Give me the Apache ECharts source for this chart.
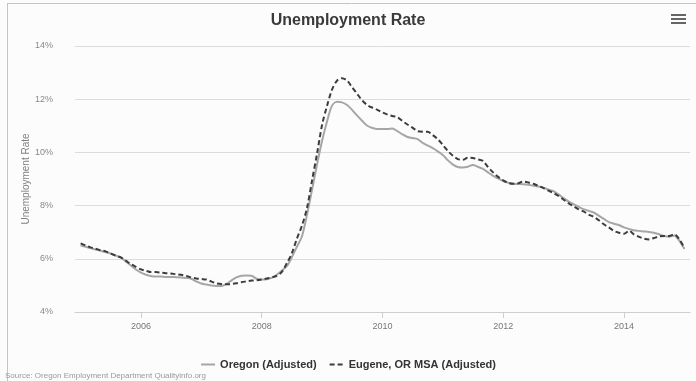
<!DOCTYPE html>
<html>
<head>
<meta charset="utf-8">
<title>Unemployment Rate</title>
<script src="https://cdn.jsdelivr.net/npm/echarts@6/dist/echarts.min.js"></script>
<style>
  html, body { margin: 0; padding: 0; background: #fcfcfc; }
  #chart { width: 696px; height: 381px; }
</style>
</head>
<body>
<div id="chart"></div>
<script>
// Monthly seasonally adjusted unemployment rate (%), Jan 2005 – Jan 2015
const startYear = 2005;
const monthCount = 121;

const oregon = [
  6.50, 6.45, 6.40, 6.35, 6.30, 6.25, 6.20, 6.12, 6.05, 5.90, 5.75, 5.60,
  5.48, 5.40, 5.35, 5.33, 5.33, 5.32, 5.32, 5.31, 5.30, 5.28, 5.25, 5.15,
  5.07, 5.03, 5.00, 4.98, 4.98, 5.05, 5.18, 5.30, 5.36, 5.37, 5.36, 5.25,
  5.22, 5.23, 5.28, 5.40, 5.55, 5.72, 6.05, 6.45, 6.85, 7.65, 8.60, 9.55,
  10.45, 11.20, 11.75, 11.90, 11.88, 11.78, 11.60, 11.38, 11.18, 11.00, 10.92, 10.88,
  10.88, 10.88, 10.90, 10.80, 10.68, 10.58, 10.54, 10.50, 10.36, 10.26, 10.16, 10.04,
  9.90, 9.70, 9.55, 9.45, 9.43, 9.46, 9.53, 9.46, 9.38, 9.25, 9.12, 9.02,
  8.92, 8.86, 8.82, 8.81, 8.80, 8.78, 8.75, 8.72, 8.67, 8.60, 8.54, 8.42,
  8.28, 8.15, 8.06, 7.95, 7.87, 7.80, 7.74, 7.62, 7.50, 7.38, 7.32, 7.27,
  7.18, 7.12, 7.07, 7.05, 7.03, 7.01, 6.98, 6.92, 6.86, 6.83, 6.88, 6.68,
  6.37
];

const eugene = [
  6.58, 6.50, 6.43, 6.38, 6.32, 6.28, 6.20, 6.12, 6.05, 5.93, 5.80, 5.70,
  5.60, 5.55, 5.50, 5.50, 5.48, 5.46, 5.45, 5.42, 5.40, 5.36, 5.30, 5.26,
  5.24, 5.22, 5.15, 5.08, 5.05, 5.04, 5.05, 5.08, 5.12, 5.15, 5.18, 5.19,
  5.22, 5.26, 5.30, 5.36, 5.50, 5.83, 6.20, 6.75, 7.25, 7.90, 8.95, 9.95,
  11.05, 11.78, 12.35, 12.70, 12.79, 12.70, 12.45, 12.20, 11.95, 11.78, 11.68, 11.60,
  11.50, 11.42, 11.37, 11.32, 11.18, 11.05, 10.93, 10.80, 10.78, 10.78, 10.65, 10.50,
  10.28, 10.05, 9.88, 9.75, 9.72, 9.80, 9.79, 9.74, 9.68, 9.45, 9.25, 9.08,
  8.95, 8.85, 8.82, 8.84, 8.90, 8.87, 8.82, 8.74, 8.66, 8.56, 8.47, 8.36,
  8.22, 8.08, 7.98, 7.86, 7.78, 7.66, 7.58, 7.45, 7.30, 7.18, 7.05, 6.98,
  6.94, 7.05, 6.92, 6.83, 6.76, 6.73, 6.78, 6.84, 6.86, 6.86, 6.92, 6.74,
  6.40
];

const yearTicks = [2006, 2008, 2010, 2012, 2014];
const seriesNames = ['Oregon (Adjusted)', 'Eugene, OR MSA (Adjusted)'];

// month timestamps (UTC, first of month)
const months = [];
for (let k = 0; k < monthCount; k++) months.push(Date.UTC(startYear, k, 1));
const tickTimes = yearTicks.map(y => Date.UTC(y, 0, 1));

const pair = vals => months.map((t, k) => [t, vals[k]]);

const FONT = 'Liberation Sans, Arial, sans-serif';
const chart = echarts.init(document.getElementById('chart'), null, { renderer: 'canvas' });

chart.setOption({
  backgroundColor: '#fcfcfc',
  animation: false,
  title: {
    text: 'Unemployment Rate',
    left: 'center',
    top: 8,
    textStyle: { fontFamily: FONT, fontSize: 16, fontWeight: 'bold', color: '#3a3a3a' }
  },
  grid: { left: 75, right: 6, top: 46, bottom: 69, containLabel: false },
  legend: {
    bottom: 6,
    left: 'center',
    itemWidth: 14,
    itemHeight: 10,
    itemGap: 12,
    itemStyle: { opacity: 0 },
    textStyle: { fontFamily: FONT, fontSize: 11, fontWeight: 'bold', color: '#333' },
    data: seriesNames
  },
  xAxis: {
    type: 'value',
    min: Date.UTC(2004, 10, 28),
    max: Date.UTC(2015, 1, 4),
    splitLine: { show: false },
    axisLine: { show: true, lineStyle: { color: '#cfcfcf', width: 1 } },
    axisTick: { show: true, customValues: tickTimes, length: 6, lineStyle: { color: '#cfcfcf' } },
    axisLabel: {
      customValues: tickTimes,
      margin: 10,
      color: '#777',
      fontFamily: FONT,
      fontSize: 9,
      formatter: v => String(new Date(v).getUTCFullYear())
    }
  },
  yAxis: {
    type: 'value',
    min: 4,
    max: 14,
    interval: 2,
    name: 'Unemployment Rate',
    nameLocation: 'middle',
    nameGap: 44,
    nameMoveOverlap: false,
    nameTextStyle: { color: '#808080', fontFamily: FONT, fontSize: 10 },
    axisLine: { show: false },
    axisTick: { show: false },
    splitLine: { lineStyle: { color: '#dcdcdc', width: 1 } },
    axisLabel: {
      margin: 22,
      color: '#888',
      fontFamily: FONT,
      fontSize: 9,
      formatter: '{value}%'
    }
  },
  series: [
    {
      name: seriesNames[0],
      type: 'line',
      data: pair(oregon),
      symbol: 'none',
      smooth: 0.3,
      lineStyle: { color: '#a6a6a6', width: 2 },
      itemStyle: { color: '#a6a6a6' },
      z: 2
    },
    {
      name: seriesNames[1],
      type: 'line',
      data: pair(eugene),
      symbol: 'none',
      smooth: 0.3,
      lineStyle: { color: '#3c3c3c', width: 2, type: [5, 3] },
      itemStyle: { color: '#3c3c3c' },
      z: 3
    }
  ],
  graphic: [
    // frame edges
    { type: 'line', shape: { x1: 7, y1: 3.5, x2: 696, y2: 3.5 }, style: { stroke: '#c4c4c4', lineWidth: 1 }, silent: true },
    { type: 'line', shape: { x1: 7.5, y1: 3, x2: 7.5, y2: 381 }, style: { stroke: '#c4c4c4', lineWidth: 1 }, silent: true },
    // export menu icon
    { type: 'rect', shape: { x: 671, y: 14, width: 15, height: 2 }, style: { fill: '#666' }, silent: true },
    { type: 'rect', shape: { x: 671, y: 18, width: 15, height: 2 }, style: { fill: '#666' }, silent: true },
    { type: 'rect', shape: { x: 671, y: 22, width: 15, height: 2 }, style: { fill: '#666' }, silent: true },
    // source credit
    {
      type: 'text', left: 5, top: 372,
      style: { text: 'Source: Oregon Employment Department Qualityinfo.org', fill: '#999', fontSize: 8, fontFamily: FONT },
      silent: true
    }
  ]
});
</script>
</body>
</html>
